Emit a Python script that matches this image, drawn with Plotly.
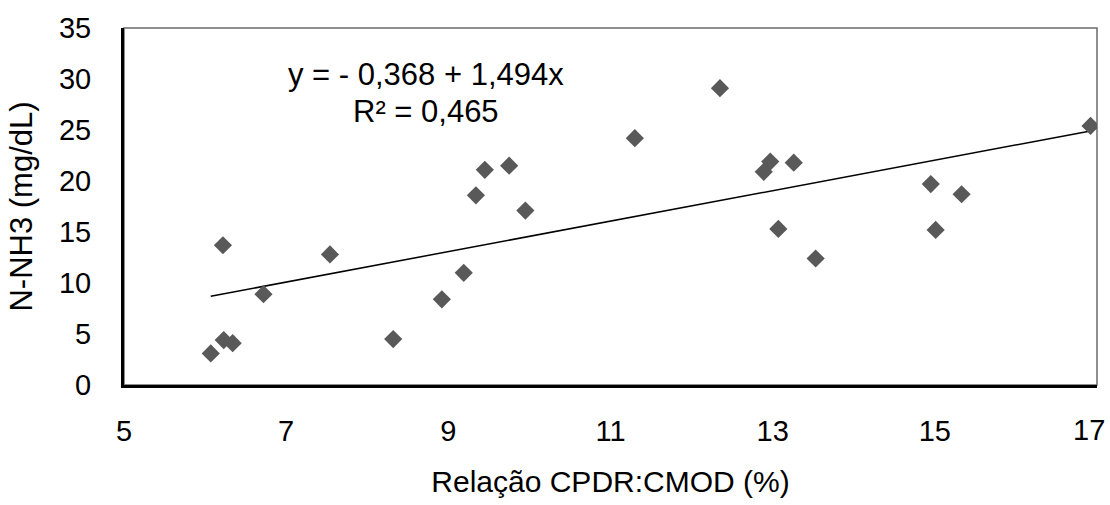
import plotly.graph_objects as go

# Data
x_vals = [6.07, 6.22, 6.23, 6.34, 6.72, 7.54, 8.32, 8.92, 9.19, 9.34, 9.45, 9.75,
          9.95, 11.30, 12.35, 12.89, 12.97, 13.07, 13.26, 13.53, 14.95, 15.01, 15.33, 16.92]
y_vals = [3.1, 13.7, 4.4, 4.1, 8.9, 12.8, 4.5, 8.4, 11.0, 18.6, 21.1, 21.5,
          17.1, 24.2, 29.1, 20.9, 21.9, 15.3, 21.8, 12.4, 19.7, 15.2, 18.7, 25.4]
intercept = -0.368
slope = 1.494
eq_text = "y = - 0,368 + 1,494x"
r2_text = "R² = 0,465"
x_title = "Relação CPDR:CMOD (%)"
y_title = "N-NH3 (mg/dL)"
x_ticks = [5, 7, 9, 11, 13, 15, 17]
y_ticks = [0, 5, 10, 15, 20, 25, 30, 35]

FONT = "Arial, Liberation Sans, sans-serif"

fit_x = [min(x_vals), max(x_vals)]
fit_y = [intercept + slope * v for v in fit_x]

fig = go.Figure()
fig.add_trace(go.Scatter(
    x=fit_x, y=fit_y, mode="lines",
    line=dict(color="black", width=1.5),
    hoverinfo="skip", showlegend=False))
fig.add_trace(go.Scatter(
    x=x_vals, y=y_vals, mode="markers",
    marker=dict(symbol="diamond", size=14, color="#595959", line=dict(width=0)),
    showlegend=False))

fig.add_shape(type="rect", xref="paper", yref="paper", x0=0, y0=0, x1=1, y1=1,
              line=dict(color="#6b6b6b", width=1.5), layer="below")

fig.add_annotation(x=8.72, y=30.45, text=eq_text, showarrow=False,
                   font=dict(family=FONT, size=31, color="black"))
fig.add_annotation(x=8.72, y=26.8, text=r2_text, showarrow=False,
                   font=dict(family=FONT, size=31, color="black"))

# last tick label drawn as an annotation, nudged left so it stays inside the page
tick_text = [str(t) for t in x_ticks]
last_label = tick_text[-1]
tick_text[-1] = ""
fig.add_annotation(x=x_ticks[-1], y=0, yref="paper", yanchor="middle",
                   yshift=-45, xshift=-8, text=last_label, showarrow=False,
                   font=dict(family=FONT, size=29, color="black"))

fig.update_layout(
    width=1110, height=505,
    margin=dict(l=124, r=13, t=28, b=120),
    paper_bgcolor="white", plot_bgcolor="white",
    font=dict(family=FONT, size=29, color="black"),
    xaxis=dict(range=[5, 17], tickvals=x_ticks, ticktext=tick_text,
               showgrid=False, zeroline=False, showline=True, linecolor="black",
               linewidth=3, ticks="", ticklen=0, automargin=False,
               ticklabeloverflow="allow",
               title=dict(text=x_title, font=dict(size=30), standoff=26)),
    yaxis=dict(range=[0, 35], tickvals=y_ticks,
               showgrid=False, zeroline=False, showline=True, linecolor="black",
               linewidth=3, ticks="", ticklen=0, automargin=False,
               ticklabeloverflow="allow",
               title=dict(text=y_title, font=dict(size=31), standoff=18)),
)
fig.update_xaxes(ticklabelstandoff=18)
fig.update_yaxes(ticklabelstandoff=24)

fig.write_html("out.html",
               config={"displayModeBar": False},
               post_script="document.body.style.margin='0px';document.body.style.padding='0px';")
